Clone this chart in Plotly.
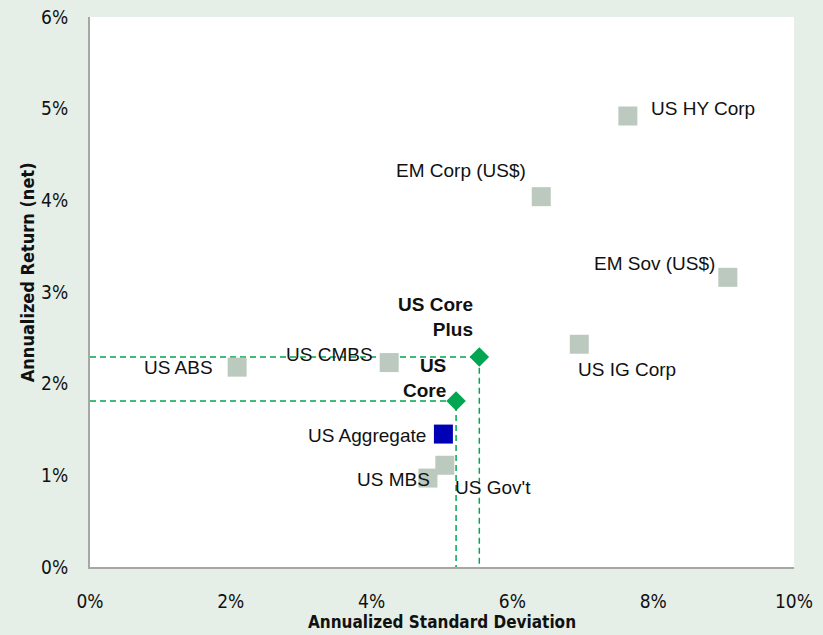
import plotly.graph_objects as go

# ---- data (percent) ----
names = ["US HY Corp", "EM Corp (US$)", "EM Sov (US$)", "US IG Corp", "US ABS",
         "US CMBS", "US MBS", "US Gov't"]
std_dev = [7.64, 6.41, 9.06, 6.95, 2.09, 4.25, 4.80, 5.04]
ann_ret = [4.92, 4.04, 3.16, 2.43, 2.18, 2.23, 0.97, 1.11]

agg_name = ["US Aggregate"]
agg_sd = [5.02]
agg_ret = [1.45]

core_names = ["US Core", "US Core Plus"]
core_labels = ["US<br>Core", "US Core<br>Plus"]
core_sd = [5.20, 5.53]
core_ret = [1.81, 2.29]

x_ticks = [0, 2, 4, 6, 8, 10]
y_ticks = [0, 1, 2, 3, 4, 5, 6]

# ---- styles ----
BG = "rgb(229,239,232)"
GRAY = "rgb(188,201,191)"
GREEN = "rgb(0,166,81)"
BLUE = "rgb(0,0,180)"
LABEL_FONT = dict(family="Liberation Sans, Arial, sans-serif", size=19, color="#111")
NARROW = "Liberation Sans Narrow, Arial Narrow, DejaVu Sans Condensed, sans-serif"

# label placement: (xanchor, xshift, yshift)
label_pos = {
    "US HY Corp": ("left", 21, 8),
    "EM Corp (US$)": ("right", -13, 26),
    "EM Sov (US$)": ("right", -11, 14),
    "US IG Corp": ("left", -3, -25),
    "US ABS": ("right", -22, 0),
    "US CMBS": ("right", -14, 8),
    "US MBS": ("right", 4, -1),
    "US Gov't": ("left", 8, -22),
    "US Aggregate": ("right", -15, -1),
    "US Core": ("right", -8, 23),
    "US Core Plus": ("right", -4, 40),
}

fig = go.Figure()

# dashed guide lines for core strategies
for sd, r in zip(core_sd, core_ret):
    fig.add_trace(go.Scatter(x=[0, sd, sd], y=[r, r, 0], mode="lines",
                             line=dict(color=GREEN, width=1.5, dash="6px,4px"),
                             hoverinfo="skip", showlegend=False))

fig.add_trace(go.Scatter(x=std_dev, y=ann_ret, mode="markers",
                         marker=dict(symbol="square", size=19, color=GRAY),
                         showlegend=False, hoverinfo="skip"))
fig.add_trace(go.Scatter(x=agg_sd, y=agg_ret, mode="markers",
                         marker=dict(symbol="square", size=19, color=BLUE),
                         showlegend=False, hoverinfo="skip"))
fig.add_trace(go.Scatter(x=core_sd, y=core_ret, mode="markers",
                         marker=dict(symbol="diamond", size=15, color=GREEN),
                         showlegend=False, hoverinfo="skip"))

annotations = []
for n, sd, r in zip(names + agg_name, std_dev + agg_sd, ann_ret + agg_ret):
    xa, xs, ys = label_pos[n]
    annotations.append(dict(x=sd, y=r, xref="x", yref="y", text=n, showarrow=False,
                            xanchor=xa, yanchor="middle", xshift=xs, yshift=ys,
                            font=LABEL_FONT))
for n, lab, sd, r in zip(core_names, core_labels, core_sd, core_ret):
    xa, xs, ys = label_pos[n]
    annotations.append(dict(x=sd, y=r, xref="x", yref="y", text="<b>" + lab + "</b>",
                            showarrow=False, align="right",
                            xanchor=xa, yanchor="middle", xshift=xs, yshift=ys,
                            font=LABEL_FONT))

# axis titles
annotations.append(dict(x=0.5, y=-0.1, xref="paper", yref="paper",
                        text="<b>Annualized Standard Deviation</b>", showarrow=False,
                        xanchor="center", yanchor="middle",
                        font=dict(family=NARROW, size=17, color="#111")))
annotations.append(dict(x=-0.0895, y=0.536, xref="paper", yref="paper",
                        text="<b>Annualized Return (net)</b>", showarrow=False,
                        textangle=-90, xanchor="center", yanchor="middle",
                        font=dict(family=NARROW, size=18, color="#111")))

fig.update_layout(
    width=823, height=635,
    margin=dict(l=90, r=29, t=17, b=68),
    paper_bgcolor=BG, plot_bgcolor="white",
    annotations=annotations,
    hovermode=False,
    xaxis=dict(range=[0, 10], tickvals=x_ticks, ticktext=[f"{v}%" for v in x_ticks],
               showgrid=False, zeroline=False, showline=True, linecolor="#a6a6a6",
               linewidth=2, ticks="", ticklabelstandoff=16, automargin=False,
               tickfont=dict(family=NARROW, size=19, color="#111"), fixedrange=True),
    yaxis=dict(range=[0, 6], tickvals=y_ticks, ticktext=[f"{v}%" for v in y_ticks],
               showgrid=False, zeroline=False, showline=True, linecolor="#a6a6a6",
               linewidth=2, ticks="", ticklabelstandoff=16, automargin=False,
               tickfont=dict(family=NARROW, size=19, color="#111"), fixedrange=True),
)

fig.write_html("out.html", config={"displayModeBar": False},
               post_script="document.body.style.margin='0';document.body.style.overflow='hidden';")
